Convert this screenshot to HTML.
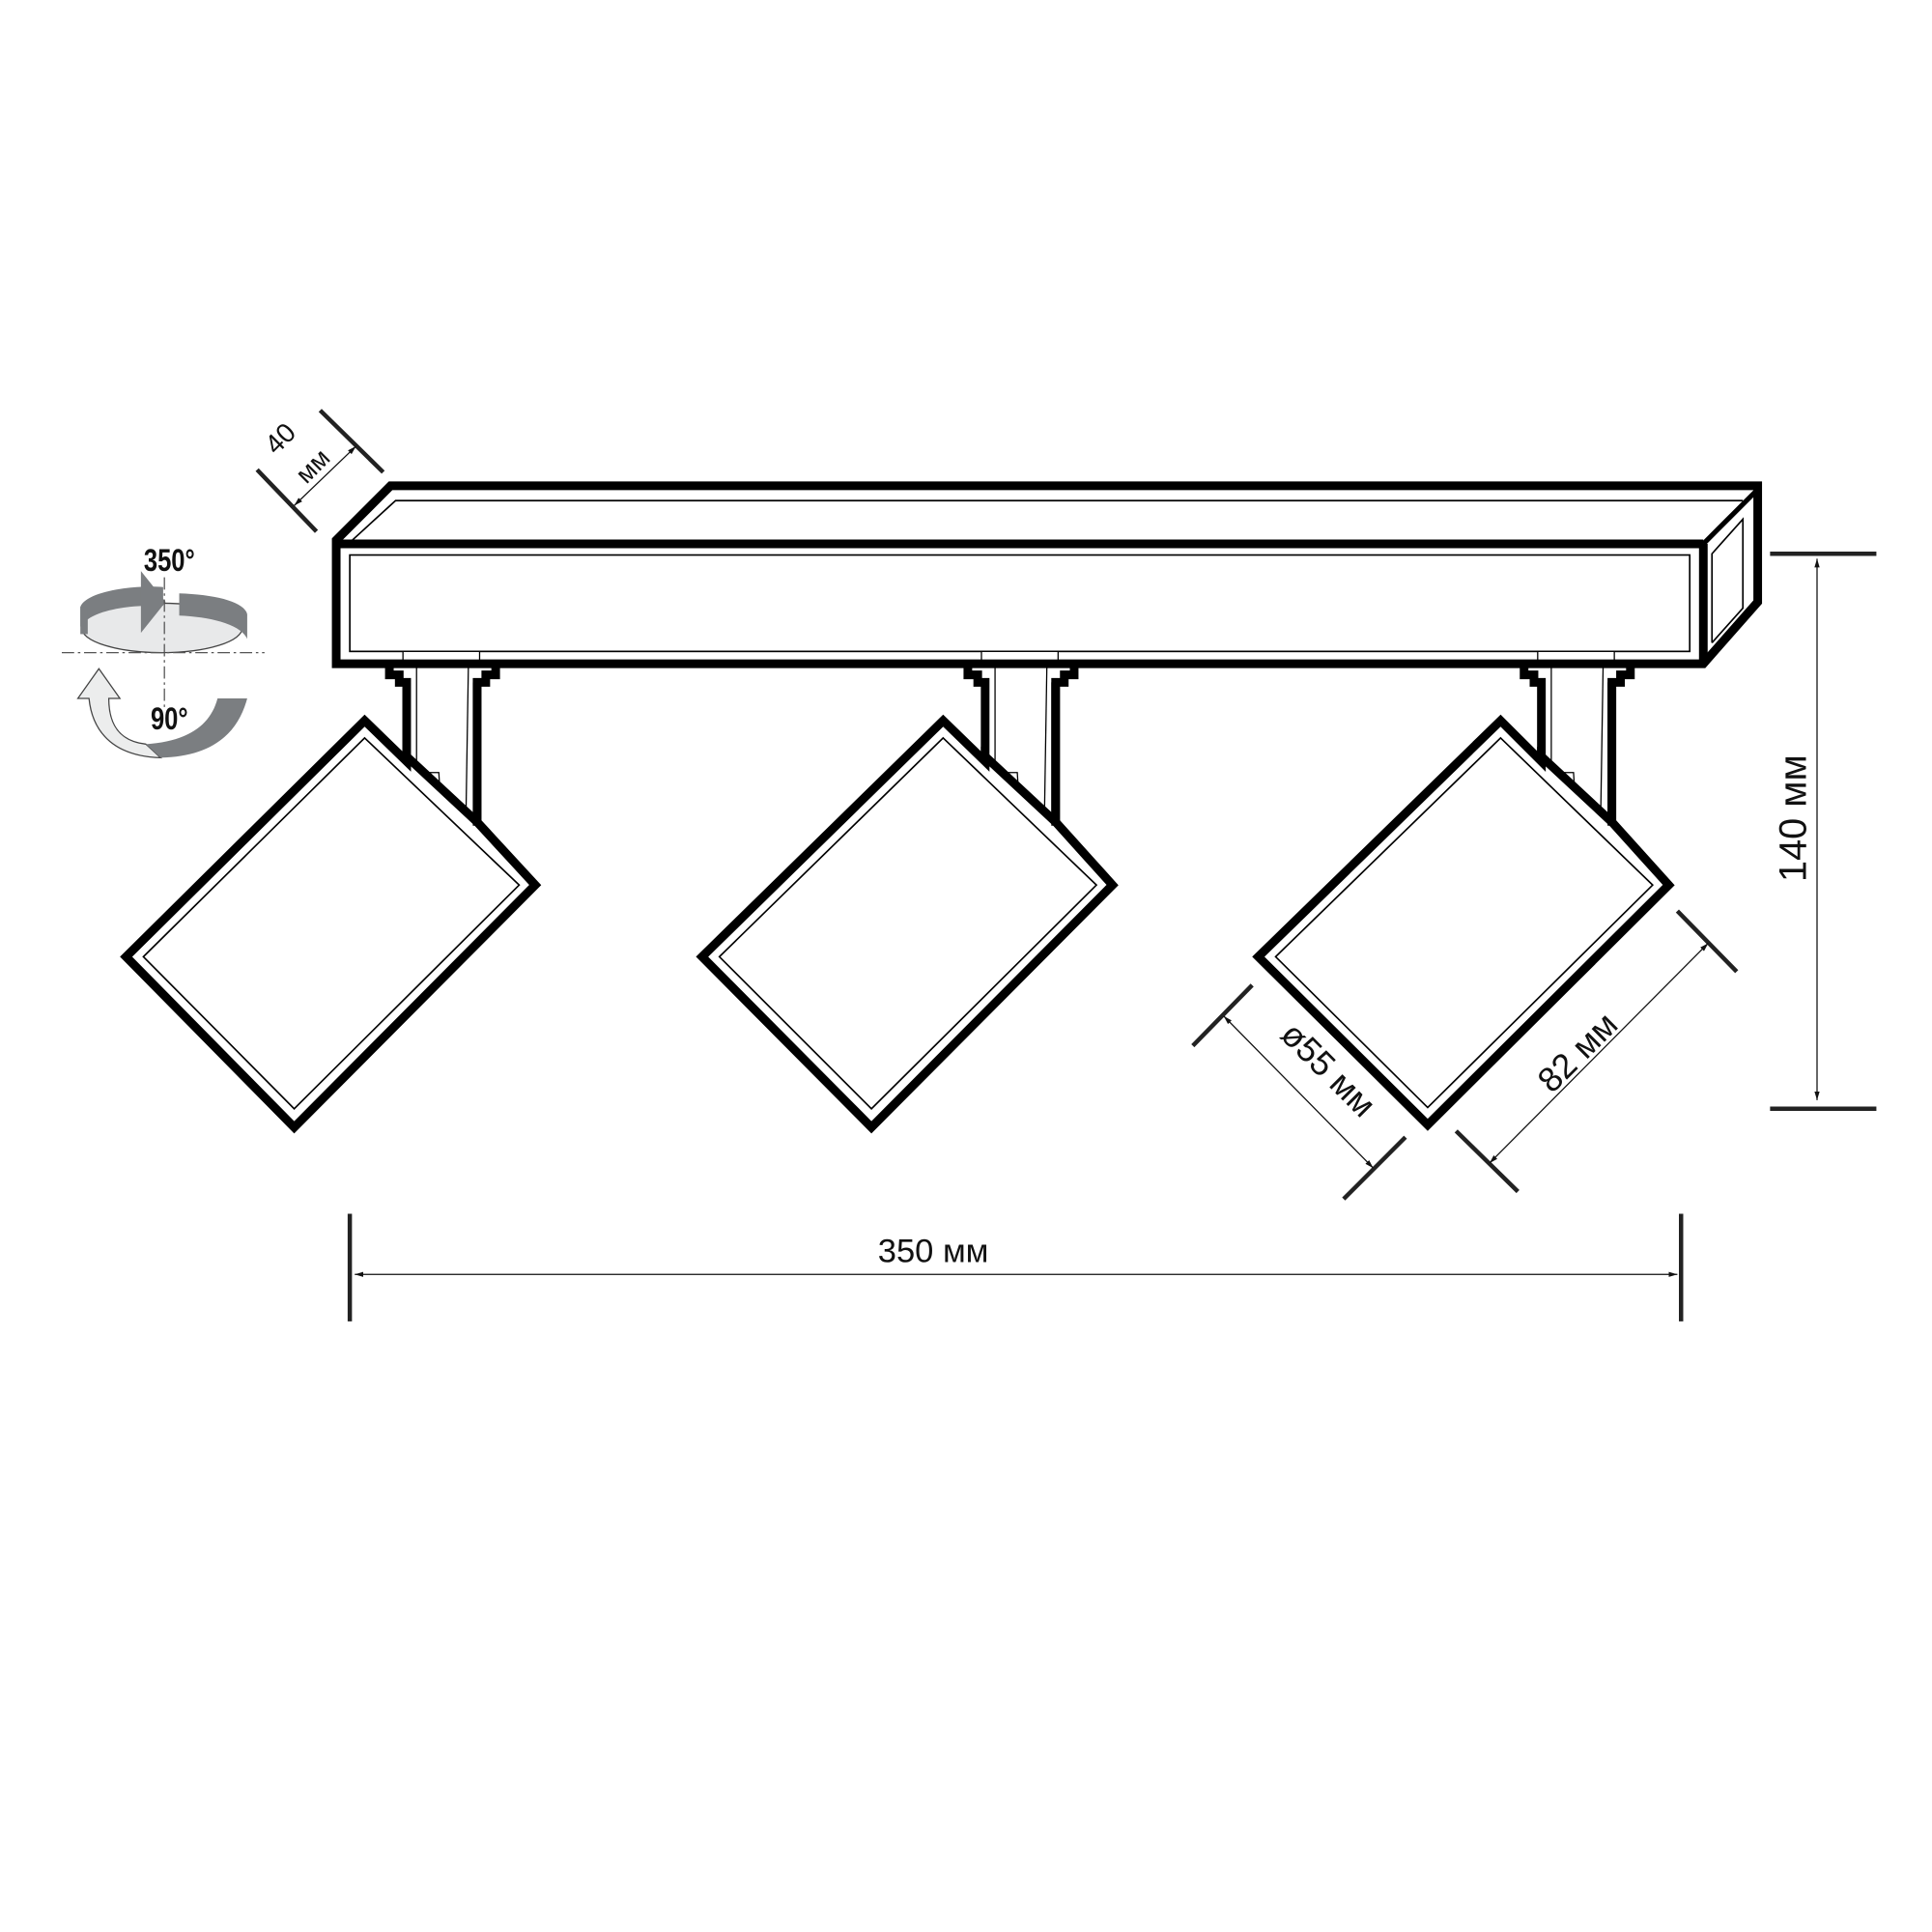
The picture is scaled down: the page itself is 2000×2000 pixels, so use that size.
<!DOCTYPE html>
<html><head><meta charset="utf-8"><style>
html,body{margin:0;padding:0;background:#fff;width:2000px;height:2000px;overflow:hidden}
svg{display:block}
text{font-family:"Liberation Sans",sans-serif;fill:#111}
.b{font-family:"Liberation Sans Narrow","Liberation Sans",sans-serif;font-weight:bold}
</style></head><body>
<svg width="2000" height="2000" viewBox="0 0 1563 1563" xmlns="http://www.w3.org/2000/svg">
<defs>
<marker id="ar" viewBox="0 0 10 10" refX="10" refY="5" markerWidth="7" markerHeight="7" orient="auto-start-reverse"><path d="M0,2 L10,5 L0,8 z" fill="#111"/></marker>
<g id="stem">
 <polyline points="-14,540 -14,546 -6,546 -6,552 0,552 0,612" fill="none" stroke="#000" stroke-width="7"/>
 <polyline points="72,540 72,546 64,546 64,552 57,552 57,665" fill="none" stroke="#000" stroke-width="7"/>
 <rect x="-3" y="527" width="62" height="7" fill="#fff" stroke="#000" stroke-width="1"/>
 <line x1="8" y1="534" x2="8" y2="625" stroke="#000" stroke-width="1"/>
 <line x1="50" y1="534" x2="48" y2="658" stroke="#000" stroke-width="1"/>
 <polyline points="8,625 26,625 28,658 48,658" fill="none" stroke="#000" stroke-width="1"/>
</g>
</defs>

<polygon points="272,437 316,393 1422,393 1422,487 1378,537 272,537" fill="#fff" stroke="#000" stroke-width="7" stroke-linejoin="miter"/>
<line x1="272" y1="440" x2="1378" y2="440" stroke="#000" stroke-width="7"/>
<line x1="1378" y1="440" x2="1378" y2="537" stroke="#000" stroke-width="7"/>
<line x1="1378" y1="440" x2="1422" y2="396" stroke="#000" stroke-width="4"/>
<rect x="283" y="449" width="1084" height="78" fill="none" stroke="#000" stroke-width="1.3"/>
<polyline points="285,437 320,405 1410,405" fill="none" stroke="#000" stroke-width="1.3"/>
<polyline points="1385,520 1385,448 1410,420 1410,492 1385,520" fill="none" stroke="#000" stroke-width="1.3"/>

<use href="#stem" transform="translate(329,0)"/>
<use href="#stem" transform="translate(797,0)"/>
<use href="#stem" transform="translate(1247,0)"/>

<g fill="#fff" stroke="#000">
<polygon points="295,583 329,616 329,612 386,665 433,716 238,912 102,774" stroke-width="7" stroke-linejoin="miter"/>
<polygon points="295,597 420,716 238,897 116,774" stroke-width="1.3"/>
<polygon points="763,583 797,616 797,612 854,665 900,716 705,912 568,774" stroke-width="7"/>
<polygon points="763,597 887,716 705,897 582,774" stroke-width="1.3"/>
<polygon points="1214,583 1247,616 1247,612 1304,665 1350,716 1155,910 1018,774" stroke-width="7"/>
<polygon points="1214,597 1337,716 1155,896 1032,774" stroke-width="1.3"/>
</g>
<line x1="386" y1="552" x2="386" y2="668" stroke="#000" stroke-width="7"/>
<line x1="854" y1="552" x2="854" y2="668" stroke="#000" stroke-width="7"/>
<line x1="1304" y1="552" x2="1304" y2="668" stroke="#000" stroke-width="7"/>

<g stroke="#222" stroke-width="3.5"><line x1="259" y1="332" x2="310" y2="382"/><line x1="208" y1="380" x2="256" y2="430"/></g>
<line x1="238" y1="409" x2="288" y2="361" stroke="#111" stroke-width="1" marker-start="url(#ar)" marker-end="url(#ar)"/>
<text x="232" y="360" font-size="22" transform="rotate(-45 232 360)" text-anchor="middle">40</text>
<text x="258" y="382" font-size="21" transform="rotate(-45 258 382)" text-anchor="middle">мм</text>

<g stroke="#222" stroke-width="3.5"><line x1="1432" y1="448" x2="1518" y2="448"/><line x1="1432" y1="897" x2="1518" y2="897"/></g>
<line x1="1470" y1="452" x2="1470" y2="890" stroke="#111" stroke-width="1" marker-start="url(#ar)" marker-end="url(#ar)"/>
<text x="1461" y="662" font-size="31" transform="rotate(-90 1461 662)" text-anchor="middle">140 мм</text>

<g stroke="#222" stroke-width="3.5"><line x1="283" y1="982" x2="283" y2="1069"/><line x1="1360" y1="982" x2="1360" y2="1069"/></g>
<line x1="287" y1="1031" x2="1357" y2="1031" stroke="#111" stroke-width="1" marker-start="url(#ar)" marker-end="url(#ar)"/>
<text x="755" y="1021" font-size="27" text-anchor="middle">350 мм</text>

<g stroke="#222" stroke-width="3.5"><line x1="965" y1="846" x2="1013" y2="797"/><line x1="1087" y1="970" x2="1137" y2="920"/></g>
<line x1="990" y1="822" x2="1111" y2="945" stroke="#111" stroke-width="1" marker-start="url(#ar)" marker-end="url(#ar)"/>
<text x="1068" y="872" font-size="28" transform="rotate(45 1068 872)" text-anchor="middle">ø55 мм</text>

<g stroke="#222" stroke-width="3.5"><line x1="1357" y1="737" x2="1405" y2="786"/><line x1="1178" y1="915" x2="1228" y2="964"/></g>
<line x1="1382" y1="763" x2="1205" y2="941" stroke="#111" stroke-width="1" marker-start="url(#ar)" marker-end="url(#ar)"/>
<text x="1283" y="858" font-size="28" transform="rotate(-45 1283 858)" text-anchor="middle">82 мм</text>

<text x="137" y="462" font-size="25" class="b" text-anchor="middle" transform="translate(137 462) scale(0.8 1) translate(-137 -462)">350°</text>
<ellipse cx="131" cy="508" rx="65" ry="20" fill="#e8e9ea" stroke="#444" stroke-width="1"/>
<path d="M65,491 C70,478 110,473 132,475 L132,490 C100,489 72,495 65,507 Z" fill="#7b7e81"/>
<path d="M114,462 L134,487 L114,512 Z" fill="#7b7e81"/>
<path d="M145,480 C175,481 198,487 200,497 L200,517 C195,505 170,499 145,498 Z" fill="#7b7e81"/>
<rect x="65" y="491" width="6" height="22" fill="#7b7e81"/>
<line x1="50" y1="528" x2="214" y2="528" stroke="#555" stroke-width="1" stroke-dasharray="10,3,2,3"/>
<line x1="133" y1="467" x2="133" y2="575" stroke="#555" stroke-width="1" stroke-dasharray="10,3,2,3"/>
<path d="M63,565 L80,541 L97,565 L88,565 C88,590 100,600 118,602 L130,613 C95,612 75,595 72,565 Z" fill="#eceded" stroke="#444" stroke-width="1"/>
<path d="M176,565 L200,565 C192,595 170,612 130,613 L118,602 C150,600 170,588 176,565 Z" fill="#7b7e81"/>
<text x="137" y="590" font-size="25" class="b" text-anchor="middle" transform="translate(137 590) scale(0.8 1) translate(-137 -590)">90°</text>
</svg>
</body></html>
